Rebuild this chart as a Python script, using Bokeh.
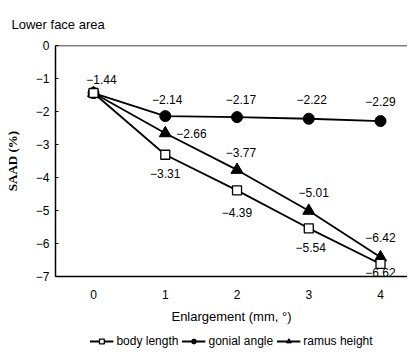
from bokeh.plotting import figure
from bokeh.models import (ColumnDataSource, FixedTicker, Legend, LegendItem,
                          Span, CustomJSTickFormatter)
from bokeh.layouts import column
from bokeh.core.properties import value
from bokeh.embed import file_html
from bokeh.resources import INLINE

# ---- data ----
enlargement = [0, 1, 2, 3, 4]
body_length = [-1.44, -3.31, -4.39, -5.54, -6.62]
gonial_angle = [-1.44, -2.14, -2.17, -2.22, -2.29]
ramus_height = [-1.44, -2.66, -3.77, -5.01, -6.42]
y_ticks = [0, -1, -2, -3, -4, -5, -6, -7]
x_ticks = [0, 1, 2, 3, 4]
series_names = ["body length", "gonial angle", "ramus height"]

FONT = "Liberation Sans"


def fmt(v):
    return f"{v:.2f}".replace("-", "\u2212")


p = figure(width=407, height=326, x_range=(-0.53, 4.376), y_range=(-7, 0),
           output_backend="svg", toolbar_location=None,
           min_border_left=55, min_border_right=0, min_border_top=43,
           min_border_bottom=49)
p.outline_line_color = None
p.xgrid.visible = False
p.ygrid.visible = False
p.background_fill_color = "white"
p.border_fill_color = "white"

# title
p.title.text = "Lower face area"
p.title.align = "left"
p.title.offset = -44
p.title.standoff = 28
p.title.text_font = FONT
p.title.text_font_size = "13px"
p.title.text_font_style = "normal"
p.title.text_color = "black"

# top line of the frame
p.add_layout(Span(location=0, dimension="width", line_color="black", line_width=1.5))

minus_fmt = CustomJSTickFormatter(code="return tick < 0 ? '\\u2212' + Math.abs(tick) : '' + tick;")

yax = p.yaxis[0]
yax.ticker = FixedTicker(ticks=y_ticks)
yax.formatter = minus_fmt
yax.axis_line_width = 1.5
yax.axis_line_color = "black"
yax.major_tick_in = 3
yax.major_tick_out = 0
yax.major_tick_line_color = "black"
yax.minor_tick_line_color = None
yax.major_label_standoff = 6
yax.major_label_text_font = FONT
yax.major_label_text_font_size = "12px"
yax.major_label_text_color = "black"
yax.axis_label = "SAAD (%)"
yax.axis_label_text_font = "Liberation Serif"
yax.axis_label_text_font_style = "bold"
yax.axis_label_text_font_size = "13px"
yax.axis_label_text_color = "black"
yax.axis_label_standoff = 13

xax = p.xaxis[0]
xax.ticker = FixedTicker(ticks=x_ticks)
xax.axis_line_width = 1.5
xax.axis_line_color = "black"
xax.major_tick_in = 0
xax.major_tick_out = 0
xax.minor_tick_line_color = None
xax.major_label_standoff = 13
xax.major_label_text_font = FONT
xax.major_label_text_font_size = "12px"
xax.major_label_text_color = "black"
xax.axis_label = "Enlargement (mm, \u00b0)"
xax.axis_label_text_font = FONT
xax.axis_label_text_font_size = "13px"
xax.axis_label_text_font_style = "normal"
xax.axis_label_text_color = "black"
xax.axis_label_standoff = 7

src = ColumnDataSource(dict(x=enlargement, body=body_length, gonial=gonial_angle, ramus=ramus_height))


def draw(fig, source):
    lw = 1.8
    r_bl = fig.line("x", "body", source=source, line_color="black", line_width=lw)
    r_ga = fig.line("x", "gonial", source=source, line_color="black", line_width=lw)
    r_rh = fig.line("x", "ramus", source=source, line_color="black", line_width=lw)
    m_ga = fig.scatter("x", "gonial", source=source, marker="circle", size=11,
                       fill_color="black", line_color="black")
    m_rh = fig.scatter("x", "ramus", source=source, marker="triangle", size=12,
                       fill_color="black", line_color="black")
    m_bl = fig.scatter("x", "body", source=source, marker="square", size=9,
                       fill_color="white", line_color="black", line_width=1.3)
    return [[r_bl, m_bl], [r_ga, m_ga], [r_rh, m_rh]]


draw(p, src)

# ---- value labels ----
lab_font = dict(text_font=value(FONT), text_font_size="12px", text_color="black",
                text_baseline="middle")

p.text(x=enlargement[:1], y=body_length[:1], text=[fmt(body_length[0])],
       x_offset=8, y_offset=-14, text_align="center", **lab_font)
p.text(x=enlargement[1:], y=gonial_angle[1:], text=[fmt(v) for v in gonial_angle[1:]],
       x_offset=[2, 4, 3, 0], y_offset=[-17, -18, -19, -20], text_align="center", **lab_font)
p.text(x=enlargement[1:2], y=ramus_height[1:2], text=[fmt(ramus_height[1])],
       x_offset=11, y_offset=0, text_align="left", **lab_font)
p.text(x=enlargement[2:], y=ramus_height[2:], text=[fmt(v) for v in ramus_height[2:]],
       x_offset=[4, 5, 0], y_offset=[-17, -18, -20], text_align="center", **lab_font)
p.text(x=enlargement[1:], y=body_length[1:], text=[fmt(v) for v in body_length[1:]],
       x_offset=[0, 0, 2, 0], y_offset=[19, 22, 19, 9], text_align="center", **lab_font)

# ---- legend strip (own small figure; its data lies outside its view) ----
pl = figure(width=407, height=22, x_range=(100, 101), y_range=(100, 101),
            output_backend="svg", toolbar_location=None,
            x_axis_type=None, y_axis_type=None,
            min_border_left=0, min_border_right=0, min_border_top=0, min_border_bottom=0)
pl.outline_line_color = None
pl.background_fill_color = "white"
pl.border_fill_color = "white"
groups = draw(pl, ColumnDataSource(dict(x=enlargement, body=body_length,
                                        gonial=gonial_angle, ramus=ramus_height)))
legend = Legend(items=[LegendItem(label=n, renderers=g) for n, g in zip(series_names, groups)],
                orientation="horizontal", location="bottom_center")
legend.glyph_width = 24
legend.glyph_height = 12
legend.label_standoff = 3
legend.spacing = 3
legend.padding = 0
legend.margin = 0
legend.border_line_color = None
legend.background_fill_alpha = 0
legend.label_text_font = FONT
legend.label_text_font_size = "12px"
legend.label_text_color = "black"
legend.label_height = 12
pl.add_layout(legend)

layout = column(p, pl, spacing=0)
open("out.html", "w").write(file_html(layout, INLINE))
